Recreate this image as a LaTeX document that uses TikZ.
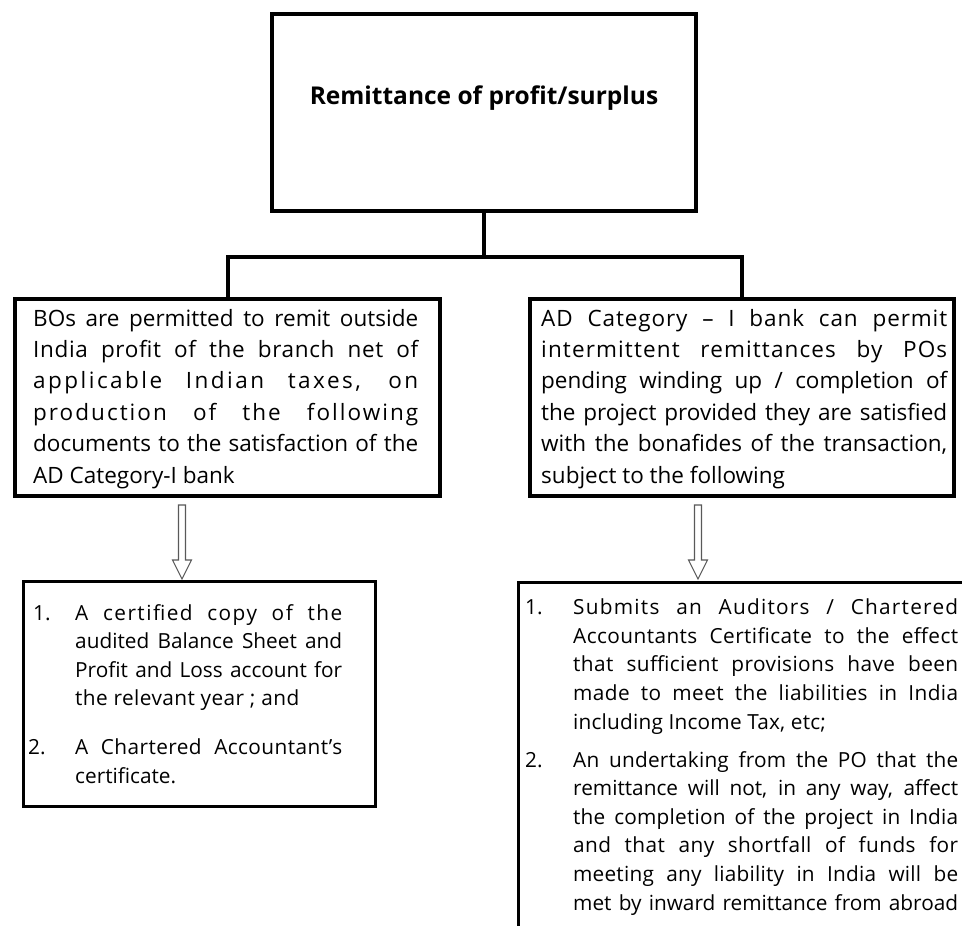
\documentclass[tikz,border=0pt]{standalone}
\usepackage{fontspec}
\setmainfont{Open Sans}
\usetikzlibrary{calc}

% one justified line of fixed width
\newcommand{\jl}[2]{\makebox[#1][s]{#2}}
% a justified line whose letters are spread as well
\newcommand{\lsl}[3]{{\addfontfeature{LetterSpace=#2}\makebox[#1][s]{#3}}}
% list number hung to the left of the text
\newcommand{\num}[2]{\llap{\makebox[#1][l]{#2}}}

\tikzset{
  frame/.style={draw=black, line width=4pt, rectangle, inner sep=0pt, fill=white},
  thinframe/.style={draw=black, line width=3pt, rectangle, inner sep=0pt},
  link/.style={draw=black, line width=4pt, line join=miter},
  hollow/.style={draw=black!65, line width=1.1pt, fill=white, line join=miter},
  % multi-line texts are placed by the baseline of their last line
  midtext/.style={inner sep=0pt, anchor=base west, align=left,
    font=\fontsize{22.5}{31.4}\selectfont},
  lowtext/.style={inner sep=0pt, anchor=base west, align=left,
    font=\fontsize{20.8}{28.6}\selectfont},
  titletext/.style={inner sep=0pt, anchor=base,
    font=\fontsize{24.5}{28}\selectfont\bfseries},
}

\begin{document}
\begin{tikzpicture}[x=1pt,y=-1pt]
  \clip (0,0) rectangle (962,926);
  \fill[white] (0,0) rectangle (962,926);

  % heading box
  \node[frame, minimum width=424pt, minimum height=197pt] (head) at (484,112.5) {};
  \node[titletext] (title) at (484,104) {Remittance of profit/surplus};

  % second row
  \node[frame, minimum width=425pt, minimum height=197pt] (bo) at (227.5,397.5) {};
  \node[frame, minimum width=424pt, minimum height=197pt] (po) at (742,397.5) {};

  \node[midtext] (botext) at (33,483) {%
    \jl{385pt}{BOs are permitted to remit outside}\\
    \lsl{385pt}{3}{India profit of the branch net of}\\
    \lsl{385pt}{11}{applicable Indian taxes, on}\\
    \lsl{385pt}{9}{production of the following}\\
    \jl{385pt}{documents to the satisfaction of the}\\
    AD Category-I bank};

  \node[midtext] (potext) at (541,483) {%
    \lsl{406pt}{4}{AD Category -- I bank can permit}\\
    \lsl{406pt}{5}{intermittent remittances by POs}\\
    \jl{406pt}{pending winding up / completion of}\\
    \jl{406pt}{the project provided they are satisfied}\\
    \jl{406pt}{with the bonafides of the transaction,}\\
    subject to the following};

  % connectors from the heading
  \coordinate (bus) at (484,257);
  \draw[link] (head.south) -- (bus);
  \draw[link] (bo.north) |- (bus) -| (po.north);

  % third row
  \node[thinframe, minimum width=352pt, minimum height=225pt] (bolist) at (199.5,694) {};
  \node[thinframe, minimum width=462pt, minimum height=378pt] (polist) at (749.5,771.5) {};

  \node[lowtext] (bolisttext) at (75,783) {%
    \num{42pt}{1.}\lsl{267pt}{7}{A certified copy of the}\\
    \jl{267pt}{audited Balance Sheet and}\\
    \jl{267pt}{Profit and Loss account for}\\
    {\addfontfeature{LetterSpace=2}the relevant year ; and}\\[20pt]
    \num{47pt}{2.}\lsl{267pt}{2}{A Chartered Accountant’s}\\
    certificate.};

  \node[lowtext] (polisttext) at (573,910) {%
    \num{48pt}{1.}\lsl{385pt}{6}{Submits an Auditors / Chartered}\\
    \lsl{385pt}{2}{Accountants Certificate to the effect}\\
    \lsl{385pt}{2}{that sufficient provisions have been}\\
    \lsl{385pt}{2}{made to meet the liabilities in India}\\
    {\addfontfeature{LetterSpace=1}including Income Tax, etc;}\\[9.3pt]
    \num{48pt}{2.}\lsl{385pt}{1}{An undertaking from the PO that the}\\
    \jl{385pt}{remittance will not, in any way, affect}\\
    \lsl{385pt}{1}{the completion of the project in India}\\
    \lsl{385pt}{2}{and that any shortfall of funds for}\\
    \lsl{385pt}{1}{meeting any liability in India will be}\\
    \jl{385pt}{met by inward remittance from abroad}};

  % hollow block arrows between the rows
  \coordinate (a1s) at (182,505);
  \coordinate (a1e) at (182,579);
  \coordinate (a2s) at (698,505);
  \coordinate (a2e) at (698,579);
  \foreach \s/\e in {a1s/a1e, a2s/a2e}{
    \draw[hollow] ($(\s)+(-3.5,0)$) -- ($(\s)+(3.5,0)$) -- ($(\e)+(3.5,-19)$)
      -- ($(\e)+(9.5,-19)$) -- (\e) -- ($(\e)+(-9.5,-19)$)
      -- ($(\e)+(-3.5,-19)$) -- cycle;
  }
\end{tikzpicture}
\end{document}
